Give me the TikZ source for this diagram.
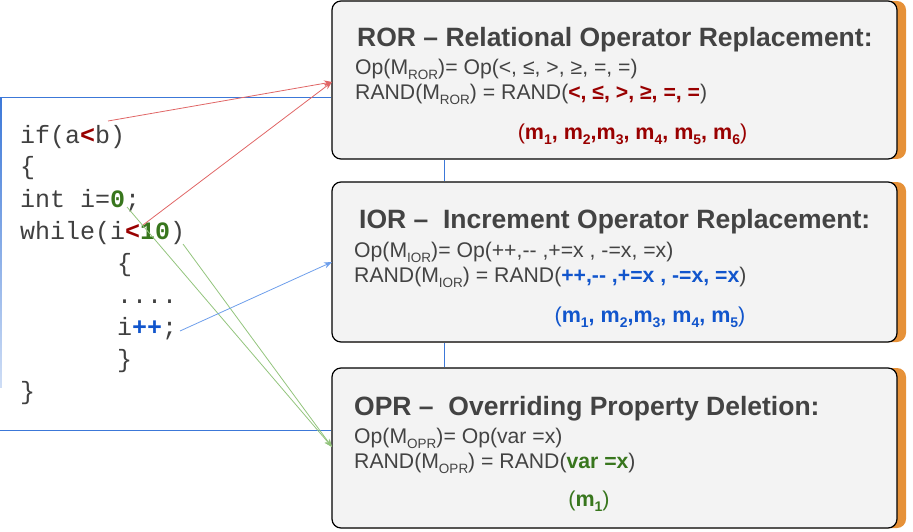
\documentclass[tikz,border=0pt]{standalone}
\usepackage{fontspec}
\setmainfont{Liberation Sans}
\newfontfamily\codefont{Liberation Mono}
\usetikzlibrary{arrows.meta}
\definecolor{txt}{HTML}{434343}
\definecolor{boxfill}{HTML}{F3F3F3}
\definecolor{shadoworange}{HTML}{E69138}
\definecolor{dred}{HTML}{990000}
\definecolor{dblue}{HTML}{1155CC}
\definecolor{dgreen}{HTML}{38761D}
\definecolor{framecol}{HTML}{3C78D8}
\definecolor{lred}{HTML}{E06666}
\definecolor{lblue}{HTML}{6D9EEB}
\definecolor{lgreen}{HTML}{93C47D}
\newcommand\lsub[1]{\raisebox{-5pt}{\fontsize{13.5}{13.5}\selectfont #1}}
\newcommand\msub[1]{\raisebox{-5pt}{\fontsize{14}{14}\selectfont #1}}
\newcommand\rb[1]{{\bfseries\color{dred}#1}}
\newcommand\gb[1]{{\bfseries\color{dgreen}#1}}
\newcommand\bb[1]{{\bfseries\color{dblue}#1}}
\begin{document}
\begin{tikzpicture}[x=1pt,y=-1pt,
  box/.style={draw=black, line width=1.2pt, fill=boxfill, rounded corners=9pt, minimum width=565pt, inner sep=0pt},
  shadowbox/.style={fill=shadoworange, rounded corners=9pt, minimum width=565pt, inner sep=0pt},
  titletext/.style={anchor=base west, inner sep=0pt, text=txt, font=\fontsize{26.5}{26.5}\selectfont\bfseries},
  bodytext/.style={anchor=base west, inner sep=0pt, text=txt, font=\fontsize{21.2}{21.2}\selectfont},
  mtext/.style={anchor=base, inner sep=0pt, font=\fontsize{21.5}{21.5}\selectfont},
  codetext/.style={anchor=base west, inner sep=0pt, text=black!75, font=\codefont\fontsize{25}{25}\selectfont},
  frameline/.style={draw=framecol, line width=1pt},
  arr/.style={line width=0.8pt, -{Stealth[length=8pt,width=6pt]}}
]
\useasboundingbox (0,0) rectangle (913,532);

% blue frame
\shade[top color=framecol, bottom color=framecol!25] (0,98) rectangle (1.8,387);
\coordinate (ftop) at (0,98);
\coordinate (fbot) at (0,430);

% shadows
\node[shadowbox, minimum height=158pt] (rorsh) at (623.5,80) {};
\node[shadowbox, minimum height=160pt] (iorsh) at (623.5,262) {};
\node[shadowbox, minimum height=160pt] (oprsh) at (623.5,448) {};

% boxes
\node[box, minimum height=158pt] (ror) at (614.5,80) {};
\node[box, minimum height=160pt] (ior) at (614.5,262) {};
\node[box, minimum height=160pt] (opr) at (614.5,448) {};

\draw[frameline] (ftop) -- (ftop -| ror.west);
\draw[frameline] (fbot) -- (fbot -| opr.west);
\coordinate (vx) at (444,0);
\draw[frameline] (vx |- ror.south) -- (vx |- ior.north);
\draw[frameline] (vx |- ior.south) -- (vx |- opr.north);

% ROR text
\node[titletext] (rort) at (357,47) {ROR – Relational Operator Replacement:};
\node[bodytext] (ror1) at (355,75) {Op(M\lsub{ROR})= Op(<, ≤, >, ≥, =, =)};
\node[bodytext] (ror2) at (355,100) {RAND(M\lsub{ROR}) = RAND(\rb{<, ≤, >, ≥, =, =})};
\node[mtext, text=dred] (ror3) at (632.5,140) {(\textbf{m\msub{1}, m\msub{2},m\msub{3}, m\msub{4}, m\msub{5}, m\msub{6}})};

% IOR text
\node[titletext] (iort) at (359,228) {IOR –\ \ Increment Operator Replacement:};
\node[bodytext] (ior1) at (354,257) {Op(M\lsub{IOR})= Op(++,-{}- ,+=x , -=x, =x)};
\node[bodytext] (ior2) at (354,282) {RAND(M\lsub{IOR}) = RAND(\bb{++,-{}- ,+=x , -=x, =x})};
\node[mtext, text=dblue] (ior3) at (650,322) {(\textbf{m\msub{1}, m\msub{2},m\msub{3}, m\msub{4}, m\msub{5}})};

% OPR text
\node[titletext] (oprt) at (354,415) {OPR –\ \ Overriding Property Deletion:};
\node[bodytext] (opr1) at (354,443) {Op(M\lsub{OPR})= Op(var =x)};
\node[bodytext] (opr2) at (354,468) {RAND(M\lsub{OPR}) = RAND(\gb{var =x})};
\node[mtext, text=dgreen] (opr3) at (589,506) {(\textbf{m\msub{1}})};

% code
\node[codetext] (c1) at (20,143) {if(a\rb{<}b)};
\node[codetext] (c2) at (20,175) {\{};
\node[codetext] (c3) at (20,207) {int i=\gb{0};};
\node[codetext] (c4) at (20,239) {while(i\rb{<}\gb{10})};
\node[codetext] (c5) at (117,271) {\{};
\node[codetext] (c6) at (117,303) {....};
\node[codetext] (c7) at (117,335) {i\bb{++};};
\node[codetext] (c8) at (117,367) {\}};
\node[codetext] (c9) at (20,399) {\}};

% connectors
\coordinate (s1) at (108,121);
\coordinate (s2) at (143,225);
\coordinate (s3) at (127,207);
\coordinate (s4) at (183,244);
\coordinate (s5) at (180,331);
\coordinate (rorin) at (332,82);
\coordinate (iorin) at (332,262);
\coordinate (oprin) at (332,447);
\draw[arr, lred] (s1) -- (rorin);
\draw[arr, lred] (s2) -- (rorin);
\draw[arr, lgreen] (s3) -- (oprin);
\draw[arr, lgreen] (s4) -- (oprin);
\draw[arr, lblue] (s5) -- (iorin);
\end{tikzpicture}
\end{document}
